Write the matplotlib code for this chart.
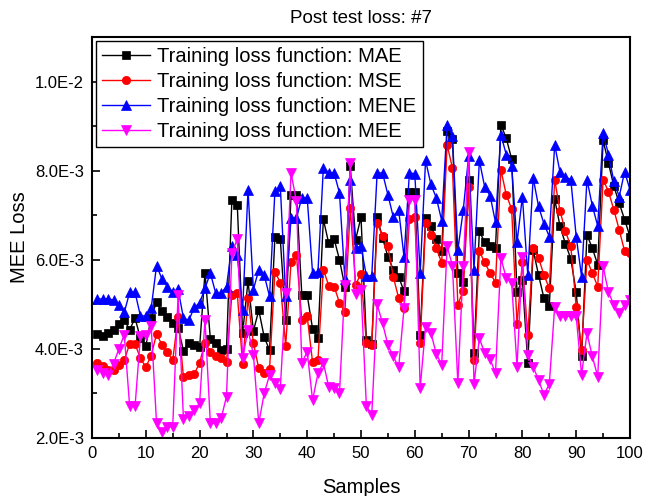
import numpy as np
import matplotlib
matplotlib.use("Agg")
import matplotlib.pyplot as plt
from matplotlib.ticker import MultipleLocator, FixedLocator, FixedFormatter

plt.rcParams['font.family'] = ['Liberation Sans', 'DejaVu Sans']

samples = np.arange(1, 101)

# values in units of 1E-3
mae = [4.34, 4.28, 4.35, 4.43, 4.55, 4.65, 4.43, 4.69, 4.24, 4.07,
       4.70, 5.06, 4.84, 4.72, 4.59, 4.48, 3.96, 4.14, 4.09, 4.04,
       5.71, 4.22, 4.13, 3.98, 4.00, 7.35, 7.24, 4.36, 5.52, 4.40,
       4.87, 4.27, 3.97, 6.51, 6.46, 4.64, 7.46, 7.46, 5.21, 5.21,
       4.45, 4.25, 6.91, 6.37, 6.47, 6.00, 5.40, 8.10, 6.45, 6.96,
       4.20, 4.11, 6.96, 6.49, 6.07, 5.78, 5.62, 5.29, 7.53, 7.51,
       4.31, 6.94, 6.75, 6.47, 6.19, 8.88, 8.71, 5.70, 5.51, 7.80,
       3.90, 6.64, 6.39, 6.31, 6.26, 9.03, 8.73, 8.26, 5.27, 5.55,
       3.68, 6.22, 5.66, 5.14, 4.97, 7.36, 6.75, 6.36, 6.02, 5.27,
       3.83, 6.56, 6.26, 5.89, 8.68, 8.17, 7.65, 7.27, 6.90, 6.52]

mse = [3.68, 3.62, 3.53, 3.53, 3.64, 3.75, 4.11, 4.11, 3.79, 3.59,
       3.85, 4.34, 4.09, 3.93, 3.74, 4.71, 3.36, 3.42, 3.43, 3.69,
       4.13, 3.94, 3.83, 3.79, 3.71, 5.21, 5.25, 3.65, 5.14, 4.13,
       3.56, 3.45, 3.54, 5.73, 5.49, 4.07, 5.96, 6.11, 4.65, 4.73,
       3.70, 3.75, 5.78, 5.42, 5.40, 5.04, 4.82, 7.16, 5.44, 5.69,
       4.13, 4.09, 6.82, 6.54, 6.30, 5.62, 5.14, 4.91, 6.91, 6.95,
       4.13, 6.82, 6.56, 6.26, 5.93, 8.58, 8.06, 4.99, 5.31, 7.63,
       3.74, 6.19, 5.94, 5.70, 5.49, 8.02, 7.46, 7.14, 4.55, 5.96,
       4.31, 6.26, 6.04, 5.66, 5.36, 7.80, 7.09, 6.64, 6.30, 4.95,
       3.98, 6.00, 5.70, 5.40, 7.80, 7.53, 7.12, 6.67, 6.19, 6.15]

mene = [5.12, 5.12, 5.12, 5.10, 4.99, 4.82, 5.27, 5.27, 4.74, 4.74,
        4.91, 5.87, 5.57, 5.40, 5.28, 5.34, 4.69, 4.64, 4.93, 5.03,
        5.36, 5.70, 5.25, 5.25, 5.40, 6.30, 6.11, 4.88, 7.57, 5.33,
        5.78, 5.66, 5.18, 7.54, 7.65, 5.18, 6.94, 6.94, 7.39, 7.39,
        5.70, 5.73, 8.06, 7.95, 7.95, 7.50, 5.57, 7.80, 6.26, 6.30,
        5.64, 5.64, 7.95, 7.95, 7.46, 6.96, 7.12, 6.06, 7.95, 7.93,
        5.70, 8.23, 7.69, 7.39, 6.88, 9.03, 8.77, 6.22, 7.11, 8.32,
        5.78, 8.23, 7.63, 7.44, 6.84, 8.81, 8.36, 8.11, 6.39, 7.42,
        5.66, 7.84, 7.20, 6.81, 6.52, 8.58, 7.96, 7.86, 7.80, 6.52,
        5.62, 7.80, 7.21, 6.76, 8.85, 8.36, 7.76, 7.42, 7.98, 7.57]

mee = [3.53, 3.47, 3.42, 3.67, 4.00, 4.32, 2.71, 2.71, 4.28, 4.32,
       4.51, 2.33, 2.14, 2.25, 2.25, 5.20, 2.42, 2.50, 2.63, 2.78,
       4.65, 2.33, 2.33, 2.44, 2.93, 6.15, 6.46, 3.79, 4.43, 3.87,
       2.33, 3.00, 3.41, 3.23, 3.11, 5.25, 7.95, 7.31, 3.68, 3.94,
       2.85, 3.45, 3.69, 3.15, 3.12, 3.00, 5.44, 8.17, 5.24, 5.33,
       2.72, 2.52, 5.00, 4.58, 4.09, 3.83, 3.59, 4.91, 7.35, 7.35,
       3.12, 4.50, 4.35, 3.89, 3.64, 6.30, 5.87, 3.23, 5.87, 8.43,
       3.21, 4.24, 3.90, 3.77, 3.45, 6.04, 5.59, 5.49, 3.60, 6.07,
       3.87, 3.60, 3.30, 2.97, 3.21, 4.95, 4.73, 4.73, 4.73, 4.73,
       3.42, 4.35, 3.83, 3.38, 5.85, 5.27, 4.99, 4.80, 4.99, 5.10]

series_labels = ["Training loss function: MAE", "Training loss function: MSE",
                 "Training loss function: MENE", "Training loss function: MEE"]
y_tick_values = [0.002, 0.004, 0.006, 0.008, 0.010]
y_tick_labels = ["2.0E-3", "4.0E-3", "6.0E-3", "8.0E-3", "1.0E-2"]
x_tick_values = [0, 10, 20, 30, 40, 50, 60, 70, 80, 90, 100]

fig = plt.figure(figsize=(6.46, 4.96), dpi=100)
ax = fig.add_axes([92/646, 58/496, 538/646, 401/496])

styles = [
    dict(color='black', marker='s', ms=5.5),
    dict(color='#FF0000', marker='o', ms=6.0),
    dict(color='#0000FF', marker='^', ms=7.0),
    dict(color='#FF00FF', marker='v', ms=7.0),
]
for vals, lab, st in zip([mae, mse, mene, mee], series_labels, styles):
    ax.plot(samples, np.array(vals) * 1e-3, color=st['color'], marker=st['marker'],
            markersize=st['ms'], markeredgewidth=0.5, markeredgecolor=st['color'],
            linewidth=1.0, label=lab)

ax.set_xlim(0, 100)
ax.set_ylim(0.002, 0.011)
ax.xaxis.set_major_locator(FixedLocator(x_tick_values))
ax.xaxis.set_minor_locator(MultipleLocator(5))
ax.yaxis.set_major_locator(FixedLocator(y_tick_values))
ax.yaxis.set_major_formatter(FixedFormatter(y_tick_labels))
ax.yaxis.set_minor_locator(MultipleLocator(0.001))
ax.tick_params(which='both', direction='in', top=False, right=False)
ax.tick_params(which='major', length=6, width=1.2, labelsize=12, pad=6)
ax.tick_params(which='minor', length=3.5, width=1.2)
for sp in ax.spines.values():
    sp.set_linewidth(1.5)

ax.set_xlabel("Samples", fontsize=14.5, labelpad=12)
ax.set_ylabel("MEE Loss", fontsize=14.5, labelpad=4)
ax.set_title("Post test loss: #7", fontsize=13.5, pad=10)

leg = ax.legend(loc='upper left', fontsize=14.5, frameon=True, fancybox=False,
                edgecolor='black', framealpha=1, borderaxespad=0.2,
                handlelength=2.4, handletextpad=0.35, labelspacing=0.3,
                borderpad=0.3, numpoints=1)
leg.get_frame().set_linewidth(1.0)

fig.savefig("out.png", dpi=100)
